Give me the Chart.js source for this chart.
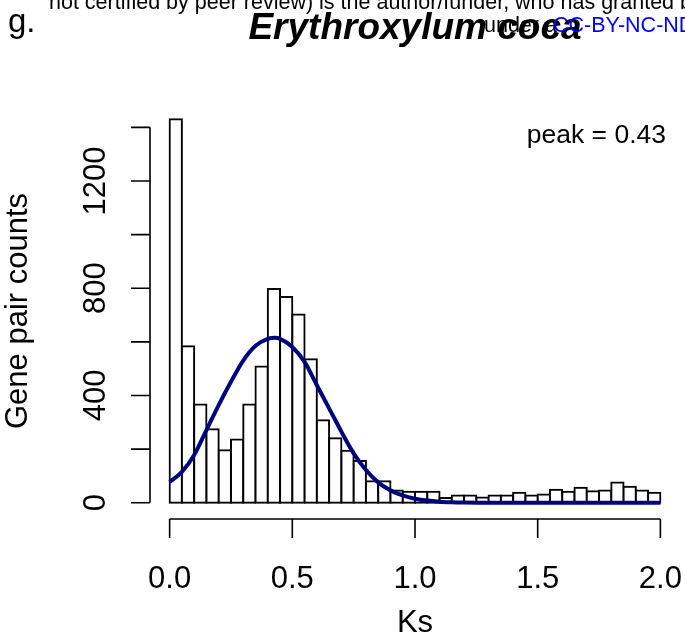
<!DOCTYPE html>
<html>
<head>
<meta charset="utf-8">
<script src="https://cdn.jsdelivr.net/npm/chart.js@4/dist/chart.umd.min.js"></script>
<style>
    html, body { margin: 0; padding: 0; background: #fff; }
    #caixa { width: 685px; height: 636px; }
</style>
</head>
<body>
<div id="caixa"><canvas id="graficoKs" width="685" height="636"></canvas></div>
<script>
// histogram bins (centre of each 0.05-wide Ks bin)
const ksBins = [
    0.025, 0.075, 0.125, 0.175, 0.225, 0.275, 0.325, 0.375, 0.425, 0.475,
    0.525, 0.575, 0.625, 0.675, 0.725, 0.775, 0.825, 0.875, 0.925, 0.975,
    1.025, 1.075, 1.125, 1.175, 1.225, 1.275, 1.325, 1.375, 1.425, 1.475,
    1.525, 1.575, 1.625, 1.675, 1.725, 1.775, 1.825, 1.875, 1.925, 1.975
];
const pairCounts = [
    1430, 584, 366, 274, 196, 236, 366, 508, 797, 767,
    702, 535, 308, 240, 194, 156, 80, 80, 46, 41,
    41, 41, 18, 27, 27, 19, 27, 27, 37, 27,
    31, 48, 41, 56, 43, 46, 75, 60, 46, 37
];
// fitted curve
const fitKs = [
    0, 0.05, 0.10, 0.15, 0.20, 0.25, 0.30, 0.35, 0.40, 0.43, 0.45, 0.50,
    0.55, 0.60, 0.65, 0.70, 0.75, 0.80, 0.85, 0.90, 0.95, 1.00, 1.05, 1.10,
    1.15, 1.20, 1.30, 1.40, 1.50, 1.60, 1.70, 1.80, 1.90, 2.00
];
const fitCounts = [
    77, 115, 178, 271, 364, 451, 530, 585, 611, 615, 611, 581,
    525, 438, 352, 265, 184, 122, 76, 46, 27, 15, 8, 4,
    2, 1, 0, 0, 0, 0, 0, 0, 0, 0
];
const xTicks = [0, 0.5, 1, 1.5, 2];
const xTickLabels = ['0.0', '0.5', '1.0', '1.5', '2.0'];
const yTicks = [0, 200, 400, 600, 800, 1000, 1200, 1400];
const yTickLabels = ['0', '', '400', '', '800', '', '1200', ''];
const peakText = 'peak = 0.43';

const FONTE = '"Liberation Sans", Arial, sans-serif';

const eixosR = {
    id: 'eixosR',
    afterDraw(chart) {
        const ctx = chart.ctx;
        const sx = chart.scales.x, sy = chart.scales.y;
        const area = chart.chartArea;
        ctx.save();
        ctx.strokeStyle = '#000';
        ctx.lineWidth = 1.6;
        ctx.fillStyle = '#000';

        // eixo x (separado, estilo R)
        const yb = area.bottom + 1;
        ctx.beginPath();
        ctx.moveTo(sx.getPixelForValue(xTicks[0]), yb);
        ctx.lineTo(sx.getPixelForValue(xTicks[xTicks.length - 1]), yb);
        xTicks.forEach(t => {
            const px = sx.getPixelForValue(t);
            ctx.moveTo(px, yb);
            ctx.lineTo(px, yb + 19);
        });
        // eixo y
        const xl = area.left;
        ctx.moveTo(xl, sy.getPixelForValue(yTicks[0]));
        ctx.lineTo(xl, sy.getPixelForValue(yTicks[yTicks.length - 1]));
        yTicks.forEach(t => {
            const py = sy.getPixelForValue(t);
            ctx.moveTo(xl, py);
            ctx.lineTo(xl - 19, py);
        });
        ctx.stroke();

        ctx.font = '31px ' + FONTE;
        ctx.textAlign = 'center';
        ctx.textBaseline = 'alphabetic';
        xTicks.forEach((t, i) => {
            ctx.fillText(xTickLabels[i], sx.getPixelForValue(t), 588);
        });
        ctx.fillText('Ks', (area.left + area.right) / 2, 632);

        yTicks.forEach((t, i) => {
            if (!yTickLabels[i]) return;
            ctx.save();
            ctx.translate(105, sy.getPixelForValue(t));
            ctx.rotate(-Math.PI / 2);
            ctx.fillText(yTickLabels[i], 0, 0);
            ctx.restore();
        });
        ctx.save();
        ctx.translate(27, (area.top + area.bottom) / 2);
        ctx.rotate(-Math.PI / 2);
        ctx.fillText('Gene pair counts', 0, 0);
        ctx.restore();

        ctx.font = '26.5px ' + FONTE;
        ctx.textAlign = 'right';
        ctx.fillText(peakText, 666, 143);

        // cabecalho
        ctx.textAlign = 'left';
        ctx.font = '21.5px ' + FONTE;
        ctx.fillText('not certified by peer review) is the author/funder, who has granted bioRxiv a license', 49, 9);
        ctx.font = '33px ' + FONTE;
        ctx.fillText('g.', 8, 32);
        ctx.textAlign = 'center';
        ctx.font = 'italic bold 37px ' + FONTE;
        ctx.fillText('Erythroxylum coca', (area.left + area.right) / 2, 39);
        ctx.textAlign = 'left';
        ctx.font = '21.5px ' + FONTE;
        ctx.fillText('under a', 484, 32);
        ctx.fillStyle = '#0000ff';
        ctx.fillText('CC-BY-NC-ND 4.0', 553, 32);
        ctx.restore();
    }
};

new Chart(document.getElementById('graficoKs'), {
    type: 'bar',
    data: {
        datasets: [
            {
                type: 'line',
                data: fitKs.map((k, i) => ({ x: k, y: fitCounts[i] })),
                borderColor: '#00007f',
                borderWidth: 4,
                pointRadius: 0,
                cubicInterpolationMode: 'monotone',
                fill: false,
                order: 0
            },
            {
                type: 'bar',
                data: ksBins.map((k, i) => ({ x: k, y: pairCounts[i] })),
                backgroundColor: '#ffffff',
                borderColor: '#000000',
                borderWidth: 2,
                inflateAmount: 1,
                borderSkipped: false,
                barPercentage: 1,
                categoryPercentage: 1,
                grouped: false,
                order: 1
            }
        ]
    },
    options: {
        responsive: false,
        animation: false,
        layout: { padding: { left: 150, right: 5, top: 104, bottom: 118 } },
        plugins: { legend: { display: false }, tooltip: { enabled: false } },
        scales: {
            x: { type: 'linear', min: -0.08, max: 2.08, offset: false, display: false },
            y: { type: 'linear', min: -57, max: 1487, display: false }
        }
    },
    plugins: [eixosR]
});
</script>
</body>
</html>
